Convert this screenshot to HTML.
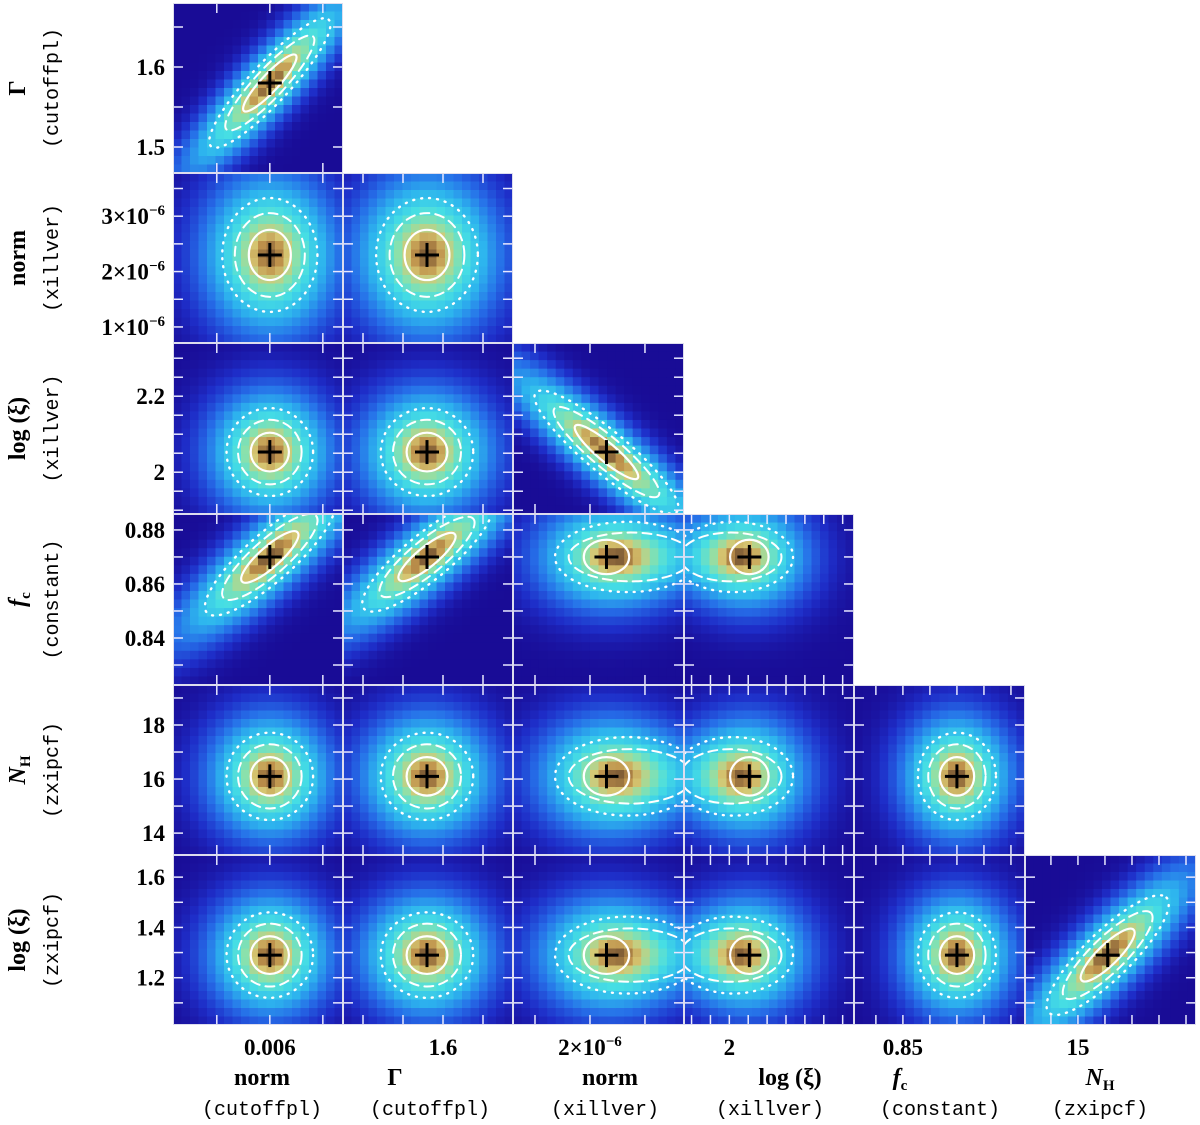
<!DOCTYPE html>
<html><head><meta charset="utf-8"><style>
html,body{margin:0;padding:0;background:#fff;}
svg{display:block;}
.tl{font-family:"Liberation Serif",serif;font-weight:bold;font-size:23px;fill:#000;}
.mono{font-family:"Liberation Mono",monospace;font-size:20px;fill:#000;}
.nm{font-family:"Liberation Serif",serif;font-weight:bold;font-size:24px;fill:#000;}
</style></head><body>
<svg id="chart" width="1200" height="1125" viewBox="0 0 1200 1125" xmlns="http://www.w3.org/2000/svg"></svg>
<script>
// ---- data ----
const paramNames=["norm","Γ","norm","log (ξ)","f_c","N_H","log (ξ)"];
const paramModels=["(cutoffpl)","(cutoffpl)","(xillver)","(xillver)","(constant)","(zxipcf)","(zxipcf)"];
const paramBest=[0.006,1.58,2.3e-6,2.053,0.87,16.1,1.29];
const paramSigma=[0.00024,0.034,0.55e-6,0.068,0.0085,0.95,0.1];
const xDomLo=[0.005087,1.475,0.6e-6,1.88,0.8319,13.04,0.978];
const xDomHi=[0.00669,1.6875,3.71e-6,2.33,0.8952,19.37,1.662];
const yDomLo=[0.005087,1.4675,0.71e-6,1.89,0.8226,13.19,1.012];
const yDomHi=[0.00669,1.68,3.78e-6,2.34,0.8859,19.48,1.688];
const xTickStep=[0.0005,0.05,1e-6,0.05,0.01,1,0.1];
const yTickStep=[0.0005,0.05,0.5e-6,0.05,0.01,1,0.1];
const xTickLabels=[[0.006],[1.6],[2e-6],[2],[0.85],[15],[]];
const yTickLabels=[[],[1.6,1.5],[3e-6,2e-6,1e-6],[2.2,2],[0.88,0.86,0.84],[18,16,14],[1.6,1.4,1.2]];
const panelRows=[1,2,2,3,3,3,4,4,4,4,5,5,5,5,5,6,6,6,6,6,6];
const panelCols=[0,0,1,0,1,2,0,1,2,3,0,1,2,3,4,0,1,2,3,4,5];
const panelRho=[0.9,0,0,0,0,-0.9,0.85,0.85,0,0,0,0,0,0,0,0,0,0,0,0,0.85];
const panelSpread=[1.4,1.1,1.1,1,1,1.4,1.5,1.4,1,1,1,1,1,1,1,1,1,1,1,1,1.4];
const tailValue=[null,null,3.4e-6,1.93,null,null,null];
const tailWeight=0.4;

// ---- layout ----
const colX=[173,343,513,684,854,1025,1196];
const rowY=[3,173,343,514,685,855,1025];
const NS="http://www.w3.org/2000/svg";
const svg=document.getElementById('chart');
function el(t,a,p){const e=document.createElementNS(NS,t);for(const k in a)e.setAttribute(k,a[k]);(p||svg).appendChild(e);return e;}
function xScale(p,col,v){return colX[col]+(v-xDomLo[p])/(xDomHi[p]-xDomLo[p])*(colX[col+1]-colX[col]);}
function yScale(p,row,v){return rowY[row]-(v-yDomLo[p])/(yDomHi[p]-yDomLo[p])*(rowY[row]-rowY[row-1]);}
const stops=[[0,[25,12,150]],[0.12,[30,45,200]],[0.3,[38,110,232]],[0.5,[45,180,238]],[0.7,[70,222,228]],[0.84,[140,225,170]],[0.92,[215,200,115]],[0.97,[190,145,75]],[1,[130,95,55]]];
function cmap(v){v=Math.max(0,Math.min(1,v));for(let i=1;i<stops.length;i++){if(v<=stops[i][0]){const a=stops[i-1],b=stops[i];const t=(v-a[0])/(b[0]-a[0]);const c=a[1].map((x,k)=>Math.round(x+(b[1][k]-x)*t));return `rgb(${c[0]},${c[1]},${c[2]})`;}}return 'rgb(130,95,55)';}
const defs=el('defs',{});
const N=20;
for(let i=0;i<panelRows.length;i++){
  const r=panelRows[i],c=panelCols[i];
  const x0=colX[c],x1=colX[c+1],y1=rowY[r],y0=rowY[r-1];
  const g=el('g',{});
  
  
  const cp=el('clipPath',{id:'cp'+i},defs);el('rect',{x:x0,y:y0,width:x1-x0,height:y1-y0},cp);
  g.setAttribute('clip-path','url(#cp'+i+')');
  const cx=xScale(c,c,paramBest[c]),cy=yScale(r,r,paramBest[r]);
  const sx=Math.abs(xScale(c,c,paramBest[c]+paramSigma[c])-cx)*panelSpread[i];
  const sy=Math.abs(yScale(r,r,paramBest[r]+paramSigma[r])-cy)*panelSpread[i];
  const rp=-panelRho[i];
  const a=sx*sx,cc=sy*sy,b=rp*sx*sy,det=a*cc-b*b;
  let tx=null;
  if(r>=4 && tailValue[c]!==null) tx=xScale(c,c,tailValue[c]);
  const W=2.6; // heatmap broadening
  function dens(px,py){const dx=px-cx,dy=py-cy;let d=Math.exp(-0.5*(cc*dx*dx-2*b*dx*dy+a*dy*dy)/det/W);
    if(tx!==null){const ex=px-tx;d+=tailWeight*Math.exp(-0.5*(ex*ex/(a*1.3)+dy*dy/(cc*0.5))/W);}return d;}
  const cw=(x1-x0)/N,ch=(y1-y0)/N;
  const vals=[];let mx=0;
  for(let ix=0;ix<N;ix++)for(let iy=0;iy<N;iy++){const d=dens(x0+(ix+0.5)*cw,y0+(iy+0.5)*ch);vals.push(d);if(d>mx)mx=d;}
  let k=0;
  for(let ix=0;ix<N;ix++)for(let iy=0;iy<N;iy++){
    const v=vals[k++]/mx;
    el('rect',{x:(x0+ix*cw).toFixed(2),y:(y0+iy*ch).toFixed(2),width:(cw+0.6).toFixed(2),height:(ch+0.6).toFixed(2),fill:cmap(v)},g);
  }
  // contours
  let th=0.5*Math.atan2(2*b,a-cc)*180/Math.PI;
  const m=(a+cc)/2,s=Math.sqrt(((a-cc)/2)**2+b*b);
  let l1=Math.sqrt(m+s),l2=Math.sqrt(m-s);
  if(Math.abs(b)<1e-9){th=0;l1=sx;l2=sy;}
  const levels=[[0.75,'',2.2],[1.25,'9 6',2],[1.7,'1 7',2.4]];
  const cn=['contour-1sigma','contour-2sigma','contour-3sigma'];
  levels.forEach((L,k)=>{
    let ex=cx,rx=L[0]*l1,ry=L[0]*l2;
    if(tx!==null && k>0){const d=(tx-cx)*(k==1?0.4:0.35);ex=cx+d;rx+=Math.abs(d);ry=L[0]*l2*(k==1?0.85:0.9);}
    const e=el('ellipse',{cx:ex,cy:cy,rx:rx,ry:ry,transform:`rotate(${th} ${ex} ${cy})`,fill:'none',stroke:'#fff','stroke-width':L[2],'stroke-dasharray':L[1],'stroke-linecap':'round'},g);
    
    
  });
  // ticks
  const tk=el('g',{stroke:'#e8e8ff','stroke-width':1.5},g);
  
  
  const xs=xTickStep[c];for(let v=Math.ceil(xDomLo[c]/xs)*xs;v<=xDomHi[c];v+=xs){const px=xScale(c,c,v);el('line',{x1:px,x2:px,y1:y1,y2:y1-10},tk);el('line',{x1:px,x2:px,y1:y0,y2:y0+10},tk);}
  const ys=yTickStep[r];for(let v=Math.ceil(yDomLo[r]/ys)*ys;v<=yDomHi[r];v+=ys){const py=yScale(r,r,v);el('line',{x1:x0,x2:x0+10,y1:py,y2:py},tk);el('line',{x1:x1,x2:x1-10,y1:py,y2:py},tk);}
  el('rect',{x:x0+0.5,y:y0+0.5,width:x1-x0-1,height:y1-y0-1,fill:'none',stroke:'#dde','stroke-width':1},g);
  // best fit cross
  const cr=el('g',{stroke:'#000','stroke-width':3},g);
  
  
  el('line',{x1:cx-12,x2:cx+12,y1:cy,y2:cy},cr);el('line',{x1:cx,x2:cx,y1:cy-12,y2:cy+12},cr);
}
function fmt(v){if(Math.abs(v)<1e-4&&v!==0){return null;}return String(v);}
function tickText(x,y,v,anchor,name){
  const t=el('text',{x:x,y:y,'text-anchor':anchor,class:'tl'});
  
  
  const f=fmt(v);
  if(f!==null){t.textContent=f;}
  else{const mant=Math.round(v/1e-6);t.textContent=mant+'×10';const s=document.createElementNS(NS,'tspan');s.setAttribute('dy','-9');s.setAttribute('font-size','15');s.textContent='−6';t.appendChild(s);}
}
for(let r=1;r<=6;r++){yTickLabels[r].forEach(v=>{tickText(165,yScale(r,r,v)+8,v,'end','y-tick-label');});}
for(let c=0;c<6;c++){xTickLabels[c].forEach(v=>{tickText(xScale(c,c,v),1055,v,'middle','x-tick-label');});}
function nameText(x,y,i,rot,name){
  const t=el('text',{x:x,y:y,'text-anchor':'middle',class:'nm'});
  if(rot)t.setAttribute('transform',`rotate(-90 ${x} ${y})`);
  
  
  const n=paramNames[i];
  if(n==='f_c'||n==='N_H'){t.setAttribute('font-style','italic');t.textContent=n[0];const s=document.createElementNS(NS,'tspan');s.setAttribute('font-size','15');s.setAttribute('dy','5');s.setAttribute('font-style','normal');s.textContent=n==='f_c'?'c':'H';t.appendChild(s);}
  else t.textContent=n;
}
function modelText(x,y,i,rot,name){
  const t=el('text',{x:x,y:y,'text-anchor':'middle',class:'mono'});
  if(rot)t.setAttribute('transform',`rotate(-90 ${x} ${y})`);
  
  
  t.textContent=paramModels[i];
}
for(let r=1;r<=6;r++){const yc=(rowY[r]+rowY[r-1])/2;nameText(25,yc,r,true,'y-axis-title');modelText(58,yc,r,true,'y-axis-subtitle');}
const bx=[262,395,610,790,900,1100],mx=[262,430,605,770,940,1100];
for(let c=0;c<6;c++){nameText(bx[c],1085,c,false,'x-axis-title');modelText(mx[c],1115,c,false,'x-axis-subtitle');}
</script>
</body></html>
